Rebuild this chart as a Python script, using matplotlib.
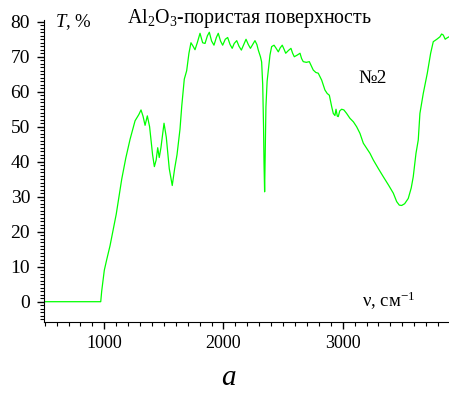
import numpy as np
import matplotlib.pyplot as plt
from matplotlib.ticker import MultipleLocator

plt.rcParams['font.family'] = ['Liberation Serif', 'DejaVu Serif']
plt.rcParams['mathtext.fontset'] = 'custom'
plt.rcParams['mathtext.rm'] = 'Liberation Serif'
plt.rcParams['mathtext.it'] = 'Liberation Serif:italic'

# wavenumber (cm^-1) and transmittance (%)
nu = [494, 970, 978, 1000, 1020, 1048, 1100, 1146, 1180, 1216, 1258, 1290,
      1308, 1325, 1342, 1361, 1380, 1405, 1420, 1435, 1448, 1461, 1475, 1501,
      1520, 1545, 1570, 1590, 1610, 1635, 1650, 1671, 1691, 1710, 1727, 1745,
      1761, 1780, 1803, 1825, 1845, 1865, 1881, 1900, 1920, 1940, 1956, 1975,
      1993, 2015, 2035, 2055, 2073, 2090, 2111, 2130, 2150, 2170, 2189, 2208,
      2226, 2245, 2264, 2280, 2292, 2310, 2320, 2329, 2336, 2340, 2345, 2350,
      2356, 2366, 2376, 2390, 2404, 2424, 2440, 2460, 2475, 2493, 2510, 2522,
      2545, 2566, 2580, 2594, 2620, 2642, 2655, 2669, 2695, 2720, 2753, 2775,
      2795, 2824, 2851, 2870, 2888, 2908, 2921, 2935, 2944, 2955, 2963, 2975,
      2991, 3010, 3033, 3061, 3090, 3117, 3145, 3173, 3229, 3257, 3300, 3341,
      3385, 3425, 3453, 3475, 3495, 3520, 3550, 3575, 3592, 3615, 3634, 3648,
      3676, 3710, 3738, 3760, 3790, 3816, 3830, 3844, 3860, 3872, 3892]
T = [0, 0, 3, 9, 12, 16, 25, 35, 41, 46.4, 51.7, 53.5,
     54.8, 53, 50.4, 53.1, 50, 42, 38.6, 40.5, 44, 41.2, 44, 51,
     47, 38, 33.2, 38, 42, 49.3, 56, 63.6, 66, 71, 74, 73,
     72, 74, 76.7, 74, 73.8, 76, 77, 74.5, 73.3, 75.5, 76.7, 74.5,
     73.3, 75, 75.5, 73.5, 72.4, 73.8, 74.6, 73, 71.9, 73.5, 75, 73.5,
     72.4, 73.5, 74.6, 73.5, 71.9, 70, 68.5, 62, 50, 39.5, 31.4, 42,
     55.7, 63, 66.2, 70.5, 72.9, 73.3, 72.5, 71.4, 72.5, 73.3, 72, 71,
     71.8, 72.4, 71, 70, 70.5, 71, 69.5, 68.6, 68.4, 68.6, 66.2, 65.5,
     65.3, 63.3, 60.5, 59.5, 59, 55.7, 53.8, 53.2, 55, 53, 52.9, 54.5,
     55, 54.8, 53.8, 52.4, 51.4, 50, 48.1, 45.3, 42.4, 40.5, 38, 35.7,
     33.3, 31, 28.6, 27.6, 27.5, 28, 29.5, 32.5, 35.7, 42.4, 46.2, 53.8,
     59.5, 65.3, 71, 74.3, 75, 75.7, 76.5, 76.2, 75, 75.3, 75.7]

W, H = 449, 396
fig = plt.figure(figsize=(W / 100, H / 100), dpi=100)
ax = fig.add_axes([44 / W, (H - 322) / H, 405 / W, 302 / H])

ax.plot(nu, T, color='#00ff00', lw=0.9)

ax.set_xlim(494, 3892)
ax.set_ylim(-5.8, 80.5)
ax.xaxis.set_major_locator(MultipleLocator(1000))
ax.xaxis.set_minor_locator(MultipleLocator(100))
ax.yaxis.set_major_locator(MultipleLocator(10))
ax.yaxis.set_minor_locator(MultipleLocator(1))
ax.tick_params(axis='both', which='major', direction='out', length=5, width=1.0)
ax.tick_params(axis='both', which='minor', direction='out', length=3, width=0.8)
ax.tick_params(axis='y', labelsize=14, pad=5)
ax.tick_params(axis='x', labelsize=13, pad=4)
for s in ['top', 'right']:
    ax.spines[s].set_visible(False)

def px(x, y):
    return x / W, 1 - y / H

fig.text(*px(55, 26.7), '$\\mathit{T}$, %', fontsize=13.5, va='baseline')
fig.text(*px(127, 23.3), 'Al$_2$O$_3$-пористая поверхность', fontsize=14.3, va='baseline')
fig.text(*px(358, 83), '№2', fontsize=14, va='baseline')
fig.text(*px(362, 306.7), 'ν, см$^{-1}$', fontsize=13.5, va='baseline')
fig.text(*px(228, 385), 'а', fontsize=21, style='italic', ha='center', va='baseline')

fig.savefig('out.png', dpi=100)
